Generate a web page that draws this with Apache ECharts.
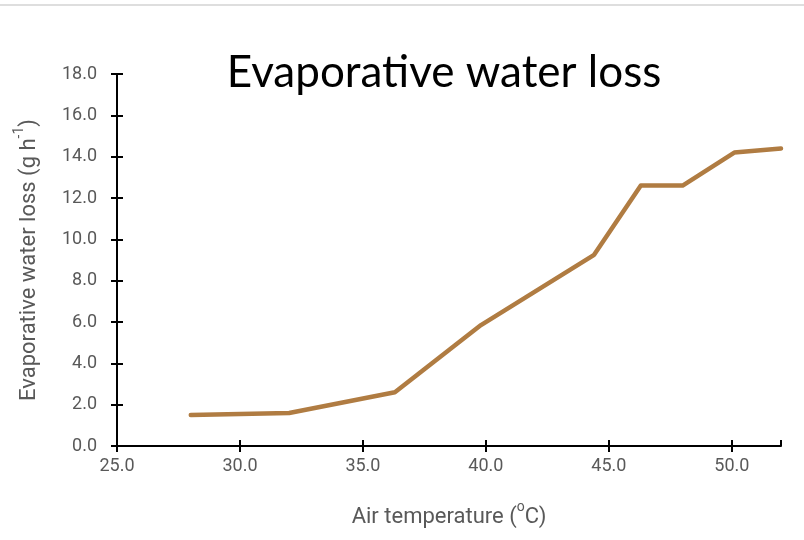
<!DOCTYPE html>
<html>
<head>
<meta charset="utf-8">
<script src="https://cdn.jsdelivr.net/npm/echarts@6/dist/echarts.min.js"></script>
<style>
  html, body { margin: 0; padding: 0; background: #fff; }
  #chart { width: 804px; height: 540px; }
</style>
</head>
<body>
<div id="chart"></div>
<script>
// air temperature (°C) and evaporative water loss (g h-1)
var airTemp = [28.0, 32.0, 36.3, 39.8, 44.4, 46.3, 48.0, 50.1, 52.0];
var waterLoss = [1.5, 1.6, 2.6, 5.85, 9.25, 12.6, 12.6, 14.2, 14.4];

var chartTitle = 'Evaporative water loss';
var labelColor = '#595959';

var pts = airTemp.map(function (t, i) { return [t, waterLoss[i]]; });

var myChart = echarts.init(document.getElementById('chart'));

var axisLine = { show: true, lineStyle: { color: '#000', width: 2 } };

// rich styles for the axis names (superscripts)
var nameRich = {
    n: { fontFamily: 'Roboto', fontSize: 22, color: labelColor, lineHeight: 28, verticalAlign: 'bottom' },
    s: { fontFamily: 'Roboto', fontSize: 14, color: labelColor, lineHeight: 24, verticalAlign: 'top' }
};

myChart.setOption({
    animation: false,
    backgroundColor: '#fff',
    title: {
        text: chartTitle,
        left: 439,
        top: 46,
        textAlign: 'center',
        textStyle: { fontFamily: 'Lato', fontWeight: 'normal', fontSize: 44, color: '#000' }
    },
    graphic: [{
        type: 'rect',
        shape: { x: 0, y: 4, width: 804, height: 2 },
        style: { fill: '#dedede' },
        silent: true
    }],
    grid: { left: 117, right: 23, top: 74, bottom: 94, containLabel: false },
    xAxis: [{
        type: 'value',
        min: 25,
        max: 52,
        interval: 5,
        axisLine: axisLine,
        axisTick: { show: true, length: 6, lineStyle: { color: '#000', width: 2 } },
        splitLine: { show: false },
        axisLabel: {
            margin: 11,
            color: labelColor,
            fontFamily: 'Roboto',
            fontSize: 18,
            showMaxLabel: false,
            formatter: function (v) { return v.toFixed(1); }
        },
        name: '{n|Air temperature (}{s|o}{n|C)}',
        nameLocation: 'middle',
        nameGap: 54,
        nameTextStyle: { rich: nameRich }
    }, {
        // second copy only for the inward half of the crossing ticks
        type: 'value',
        position: 'bottom',
        min: 25,
        max: 52,
        interval: 5,
        axisLine: { show: false },
        axisTick: { show: true, inside: true, length: 6, lineStyle: { color: '#000', width: 2 } },
        axisLabel: { show: false },
        splitLine: { show: false }
    }],
    yAxis: [{
        type: 'value',
        min: 0,
        max: 18,
        interval: 2,
        axisLine: axisLine,
        axisTick: { show: true, length: 6, lineStyle: { color: '#000', width: 2 } },
        splitLine: { show: false },
        axisLabel: {
            margin: 20,
            color: labelColor,
            fontFamily: 'Roboto',
            fontSize: 18,
            formatter: function (v) { return v.toFixed(1); }
        },
        name: '{n|Evaporative water loss (g h}{s|-1}{n|)}',
        nameLocation: 'middle',
        nameGap: 77,
        nameTextStyle: { rich: nameRich }
    }, {
        type: 'value',
        position: 'left',
        min: 0,
        max: 18,
        interval: 2,
        axisLine: { show: false },
        axisTick: { show: true, inside: true, length: 6, lineStyle: { color: '#000', width: 2 } },
        axisLabel: { show: false },
        splitLine: { show: false }
    }],
    series: [{
        type: 'line',
        data: pts,
        showSymbol: false,
        symbol: 'none',
        lineStyle: { color: '#b07c42', width: 4.5, cap: 'round', join: 'round' },
        z: 1
    }]
});
</script>
</body>
</html>
